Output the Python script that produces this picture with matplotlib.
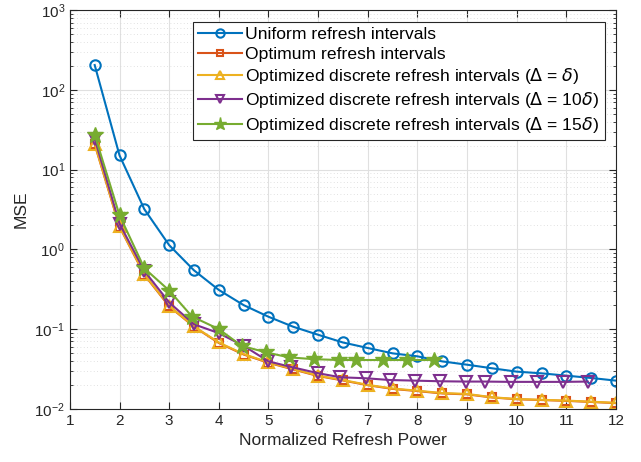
import numpy as np
import matplotlib
matplotlib.use('Agg')
import matplotlib.pyplot as plt

plt.rcParams['font.family'] = ['Liberation Sans', 'DejaVu Sans']
plt.rcParams['mathtext.fontset'] = 'dejavusans'

# DATA
x_grid = [1.5, 2, 2.5, 3, 3.5, 4, 4.5, 5, 5.5, 6, 6.5, 7, 7.5, 8, 8.5,
          9, 9.5, 10, 10.5, 11, 11.5, 12]
mse_uniform = [205, 15.1, 3.19, 1.13, 0.546, 0.31, 0.2, 0.143, 0.107, 0.085, 0.068,
               0.058, 0.0497, 0.0456, 0.0394, 0.0358, 0.0323, 0.0293, 0.0279,
               0.0261, 0.0244, 0.0226]
mse_optimum = [20.8, 1.92, 0.48, 0.193, 0.107, 0.067, 0.048, 0.0378, 0.0312, 0.0258,
               0.0227, 0.0198, 0.0178, 0.0167, 0.0156, 0.0152, 0.0139, 0.0132,
               0.0129, 0.0126, 0.0122, 0.0118]
mse_delta1 = [21.1, 1.95, 0.487, 0.196, 0.108, 0.068, 0.0487, 0.0383, 0.0316, 0.0261,
              0.023, 0.02, 0.018, 0.0169, 0.0158, 0.0154, 0.014, 0.0133, 0.013,
              0.0127, 0.0123, 0.0119]

x_delta10 = [1.5, 2, 2.5, 3, 3.5, 4, 4.5, 5, 5.46, 6, 6.45, 6.96, 7.45, 7.95, 8.45,
             8.97, 9.36, 9.88, 10.41, 10.93, 11.43]
mse_delta10 = [24.5, 2.1, 0.537, 0.216, 0.115, 0.089, 0.0617, 0.0394, 0.0335, 0.028,
               0.0249, 0.0242, 0.023, 0.0226, 0.0222, 0.022, 0.022, 0.0218, 0.0218,
               0.0218, 0.022]

x_delta15 = [1.5, 2, 2.5, 3, 3.46, 4, 4.46, 4.96, 5.41, 5.91, 6.42, 6.77, 7.3, 7.79, 8.33]
mse_delta15 = [27.4, 2.68, 0.58, 0.305, 0.144, 0.1, 0.0617, 0.051, 0.0443, 0.042,
               0.041, 0.041, 0.041, 0.041, 0.041]

labels = ['Uniform refresh intervals',
          'Optimum refresh intervals',
          r'Optimized discrete refresh intervals ($\Delta$ = $\delta$)',
          r'Optimized discrete refresh intervals ($\Delta$ = 10$\delta$)',
          r'Optimized discrete refresh intervals ($\Delta$ = 15$\delta$)']
colors = ['#0072BD', '#D95319', '#EDB120', '#7E2F8E', '#77AC30']

fig = plt.figure(figsize=(6.41, 4.62), dpi=100)
ax = fig.add_axes([0.109, 0.115, 0.852, 0.863])

ax.plot(x_grid, mse_uniform, '-o', color=colors[0], lw=1.5, ms=7.5, mfc='none', mew=1.5, label=labels[0])
ax.plot(x_grid, mse_optimum, '-s', color=colors[1], lw=1.5, ms=5.5, mfc='none', mew=1.5, label=labels[1])
ax.plot(x_grid, mse_delta1, '-^', color=colors[2], lw=1.5, ms=8, mfc='none', mew=1.5, label=labels[2])
ax.plot(x_delta10, mse_delta10, '-v', color=colors[3], lw=1.5, ms=8, mfc='none', mew=1.5, label=labels[3])
ax.plot(x_delta15, mse_delta15, '-*', color=colors[4], lw=1.5, ms=12, label=labels[4])

ax.set_yscale('log')
ax.set_xlim(1, 12)
ax.set_ylim(1e-2, 1e3)
ax.set_xticks(range(1, 13))

ax.grid(True, which='major', color='#e0e0e0', lw=0.8)
ax.grid(True, which='minor', axis='y', color='#d8d8d8', lw=0.6, ls=(0, (1, 3)))
ax.set_axisbelow(True)

ax.tick_params(which='both', direction='in', top=True, right=True, colors='#262626', labelsize=11)
ax.tick_params(which='major', length=5)
ax.tick_params(which='minor', length=2.5)
ax.tick_params(axis='x', which='minor', top=False, bottom=False)
for s in ax.spines.values():
    s.set_color('#262626')
    s.set_linewidth(0.8)

ax.set_xlabel('Normalized Refresh Power', fontsize=12.5, color='#262626')
ax.set_ylabel('MSE', fontsize=12.5, color='#262626')

leg = ax.legend(loc='upper right', fontsize=12.6, frameon=True, fancybox=False,
                edgecolor='#262626', framealpha=1, borderpad=0.3, labelspacing=0.25,
                handlelength=2.5, handletextpad=0.2, borderaxespad=0.65, markerscale=0.8)
leg.get_frame().set_linewidth(0.8)

fig.savefig('out.png', dpi=100)
